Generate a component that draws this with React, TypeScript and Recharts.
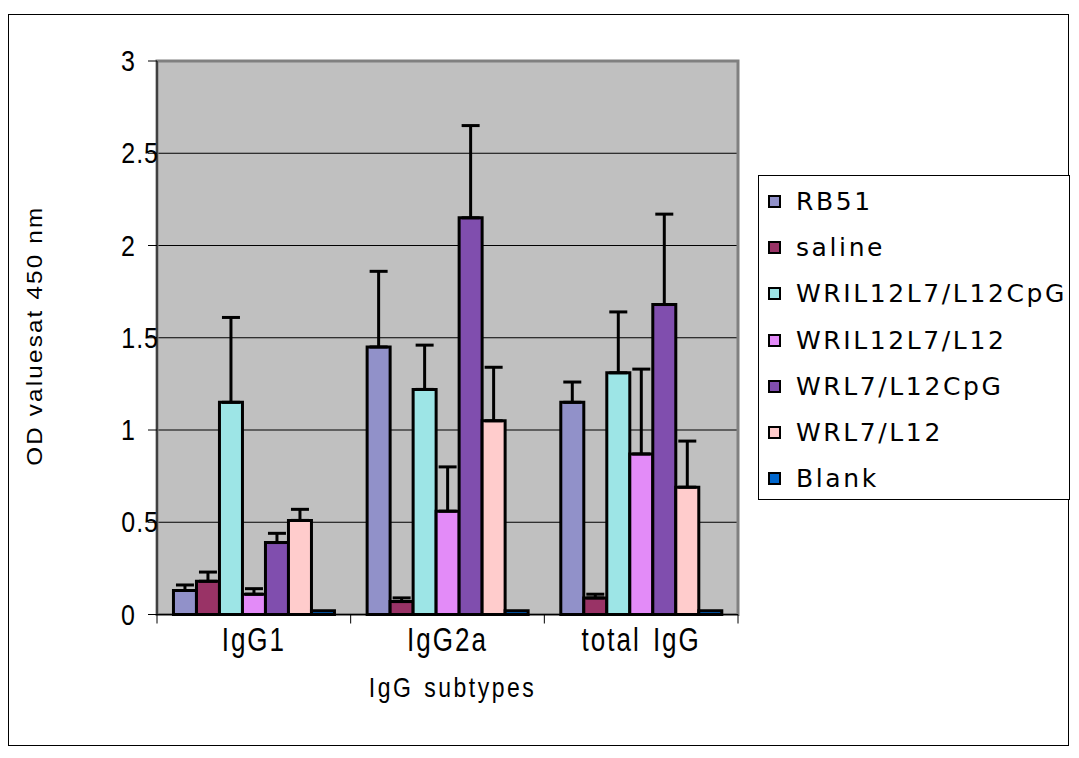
import {
  BarChart,
  Bar,
  XAxis,
  YAxis,
  CartesianGrid,
  Legend,
  ErrorBar,
  ReferenceArea,
  Label,
} from "recharts";

const CATEGORIES = ["IgG1", "IgG2a", "total IgG"];
const Y_TICKS = [0, 0.5, 1, 1.5, 2, 2.5, 3];

const SERIES_NAMES = [
  "RB51",
  "saline",
  "WRIL12L7/L12CpG",
  "WRIL12L7/L12",
  "WRL7/L12CpG",
  "WRL7/L12",
  "Blank",
];

// mean OD per subtype (IgG1, IgG2a, total IgG)
const RB51 = [0.13, 1.45, 1.15];
const SALINE = [0.18, 0.07, 0.09];
const WRIL12_CPG = [1.15, 1.22, 1.31];
const WRIL12 = [0.11, 0.56, 0.87];
const WRL7_CPG = [0.39, 2.15, 1.68];
const WRL7 = [0.51, 1.05, 0.69];
const BLANK = [0.02, 0.02, 0.02];

// upper error (plus only)
const RB51_ERR = [0.03, 0.41, 0.11];
const SALINE_ERR = [0.05, 0.02, 0.02];
const WRIL12_CPG_ERR = [0.46, 0.24, 0.33];
const WRIL12_ERR = [0.03, 0.24, 0.46];
const WRL7_CPG_ERR = [0.05, 0.5, 0.49];
const WRL7_ERR = [0.06, 0.29, 0.25];
const BLANK_ERR = [0, 0, 0];

const VALUES = [RB51, SALINE, WRIL12_CPG, WRIL12, WRL7_CPG, WRL7, BLANK];
const ERRORS = [RB51_ERR, SALINE_ERR, WRIL12_CPG_ERR, WRIL12_ERR, WRL7_CPG_ERR, WRL7_ERR, BLANK_ERR];

const COLORS = ["#9191C9", "#993366", "#9DE5E6", "#E38BF8", "#804EAE", "#FFCCCC", "#0066CC"];

const FONT = "'Liberation Sans', Arial, sans-serif";

const data = CATEGORIES.map((cat, i) => {
  const row: Record<string, any> = { category: cat };
  SERIES_NAMES.forEach((name, s) => {
    row["v" + s] = VALUES[s][i];
    row["e" + s] = [0, ERRORS[s][i]];
  });
  return row;
});

function YTick(props: any) {
  const { x, y, payload } = props;
  const v = payload.value as number;
  const isInt = Number.isInteger(v);
  return (
    <text
      transform={`translate(${isInt ? x - 12 : x + 11},${y + 10}) scale(1,1.15)`}
      textAnchor="end"
      fontSize={25}
      letterSpacing={1}
      fontFamily={FONT}
      fill="#000"
    >
      {v}
    </text>
  );
}

function CategoryTick(props: any) {
  const { x, y, payload, index, width } = props;
  const band = payload?.offset ? payload.offset * 2 : width / CATEGORIES.length;
  const axisY = y - 8;
  return (
    <g>
      <line x1={x - band / 2} x2={x - band / 2} y1={axisY} y2={axisY + 9} stroke="#000" />
      {index === CATEGORIES.length - 1 && (
        <line x1={x + band / 2} x2={x + band / 2} y1={axisY} y2={axisY + 9} stroke="#000" />
      )}
      <text
        transform={`translate(${x},${axisY + 36}) scale(1,1.25)`}
        textAnchor="middle"
        fontSize={26}
        letterSpacing={2}
        wordSpacing={3}
        fontFamily={FONT}
        fill="#000"
      >
        {payload.value}
      </text>
    </g>
  );
}

function LegendBox() {
  return (
    <div
      style={{
        border: "1px solid #000",
        background: "#fff",
        width: 312,
        height: 325,
        boxSizing: "border-box",
        paddingTop: 2,
      }}
    >
      {SERIES_NAMES.map((name, s) => (
        <div
          key={name}
          style={{ display: "flex", alignItems: "center", height: 46.3, paddingLeft: 9 }}
        >
          <span
            style={{
              width: 9,
              height: 9,
              border: "2px solid #000",
              background: COLORS[s],
              display: "inline-block",
              marginRight: 15,
            }}
          />
          <span
            style={{
              fontFamily: "'DejaVu Sans', sans-serif",
              fontSize: 25,
              letterSpacing: 2.6,
              color: "#000",
            }}
          >
            {name}
          </span>
        </div>
      ))}
    </div>
  );
}

export default function App() {
  return (
    <div style={{ paddingTop: 6 }}>
      <div
        style={{
          width: 1061,
          height: 732,
          border: "1px solid #000",
          boxSizing: "border-box",
          background: "#fff",
        }}
      >
        <BarChart
          width={1059}
          height={730}
          data={data}
          margin={{ top: 46, right: 330, bottom: 70.5, left: 0 }}
          barGap={0}
          barCategoryGap="8.5%"
        >
          <CartesianGrid
            vertical={false}
            stroke="#000"
            fill="#C0C0C0"
            fillOpacity={1}
          />
          <ReferenceArea y1={0} y2={3} fill="none" stroke="#808080" strokeWidth={3} ifOverflow="visible" />
          <XAxis
            dataKey="category"
            height={60}
            tickSize={8}
            tickMargin={0}
            tickLine={false}
            axisLine={{ stroke: "#000" }}
            tick={<CategoryTick />}
          >
            <Label
              content={(p: any) => {
                const vb = p.viewBox;
                return (
                  <text
                    transform={`translate(${vb.x + vb.width / 2 + 5},${vb.y + 82}) scale(1,1.2)`}
                    textAnchor="middle"
                    fontSize={23}
                    letterSpacing={2.5}
                    wordSpacing={2}
                    fontFamily={FONT}
                    fill="#000"
                  >
                    IgG subtypes
                  </text>
                );
              }}
            />
          </XAxis>
          <YAxis
            width={148}
            domain={[0, 3]}
            ticks={Y_TICKS}
            interval={0}
            tickSize={9}
            tickMargin={0}
            tickLine={{ stroke: "#000" }}
            axisLine={{ stroke: "#000" }}
            tick={<YTick />}
          >
            <Label
              content={(p: any) => {
                const vb = p.viewBox;
                const cx = vb.x + 33;
                const cy = vb.y + vb.height / 2 - 2;
                return (
                  <text
                    transform={`translate(${cx},${cy}) rotate(-90) scale(1.1,1)`}
                    textAnchor="middle"
                    fontSize={22}
                    letterSpacing={2}
                    fontFamily={FONT}
                    fill="#000"
                  >
                    OD valuesat 450 nm
                  </text>
                );
              }}
            />
          </YAxis>
          <Legend
            layout="horizontal"
            align="center"
            verticalAlign="middle"
            wrapperStyle={{ left: 749, top: 160, width: 312, height: 325 }}
            content={<LegendBox />}
          />
          {SERIES_NAMES.map((name, s) => (
            <Bar
              key={name}
              dataKey={"v" + s}
              name={name}
              fill={COLORS[s]}
              stroke="#000"
              strokeWidth={3}
              isAnimationActive={false}
            >
              {ERRORS[s].some((e) => e > 0) && (
                <ErrorBar
                  dataKey={"e" + s}
                  width={9}
                  stroke="#000"
                  strokeWidth={3}
                  direction="y"
                  isAnimationActive={false}
                />
              )}
            </Bar>
          ))}
        </BarChart>
      </div>
    </div>
  );
}
